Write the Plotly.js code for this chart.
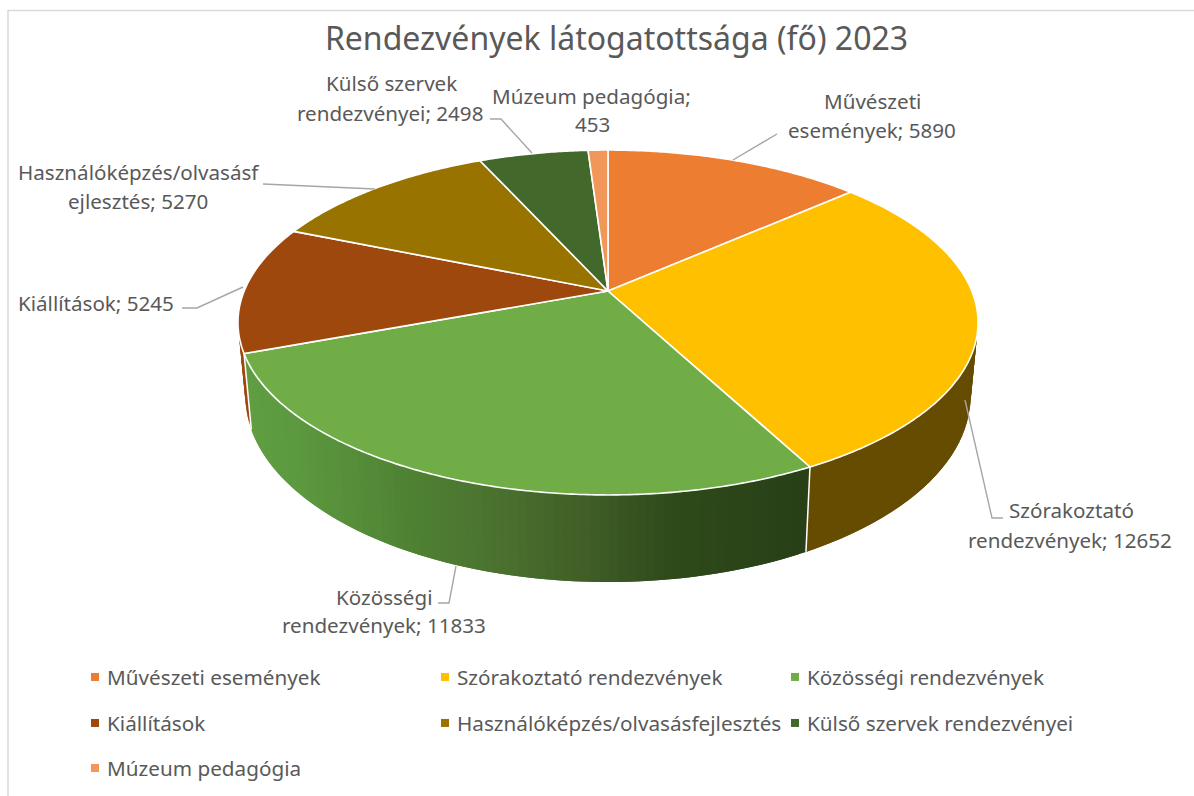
<!DOCTYPE html>
<html><head><meta charset="utf-8">
<script src="https://cdn.plot.ly/plotly-3.0.1.min.js"></script>
<style>html,body{margin:0;padding:0;background:#fff}#chart{width:1194px;height:796px}</style>
</head><body><div id="chart"></div>
<script>
const categories = ["Művészeti események","Szórakoztató rendezvények","Közösségi rendezvények","Kiállítások","Használóképzés/olvasásfejlesztés","Külső szervek rendezvényei","Múzeum pedagógia"];
const values = [5890,12652,11833,5245,5270,2498,453];
const colors = ["#ED7D31","#FFC000","#70AD47","#9E480E","#997300","#43682B","#F1975A"];
const labelHeads = ["Művészeti<br>események","Szórakoztató<br>rendezvények","Közösségi<br>rendezvények","Kiállítások","Használóképzés/olvasásf<br>ejlesztés","Külső szervek<br>rendezvényei","Múzeum pedagógia;<br>"];
const labelAnchors = [
  [[872,101],[872,130]],
  [[1071,510],[1070,540]],
  [[384,597],[384,625]],
  [[96,303]],
  [[138,172],[138,201]],
  [[391,83],[390,113]],
  [[591,96],[592,124]]
];
const leaders = [
  [[733,160],[777,134]],
  [[965,400],[992,518],[1003,518]],
  [[456,566],[449,603],[438,603]],
  [[243,287],[197,308],[182,308]],
  [[375,189],[263,184]],
  [[532,153],[501,119],[490,119]]
];
const legendRows = [[0,1,2],[3,4,5],[6]];
const legendRowY = [677,723,768];

// projection of the (perspective) disc into chart units
const P = {cx:608, cy:291, A:363.8, C:166.7, k:0.1826, botScaleX:0.98, depth:71.2};
const FONT = "Noto Sans, Open Sans, sans-serif", INK = "#595959";
const total = values.reduce((a,b)=>a+b,0);
const cum = [0]; values.forEach(v=>cum.push(cum[cum.length-1]+v));
const angOf = c => c/total*2*Math.PI;

function topPt(t){ const u=Math.sin(t), v=-Math.cos(t), w=1-P.k*v; return [P.cx+P.A*u/w, P.cy+P.C*v/w]; }
function botPt(t){ const p=topPt(t), w=1+P.k*Math.cos(t); return [P.cx+(p[0]-P.cx)*P.botScaleX, p[1]+P.depth/w]; }
function arc(fn,a,b,step){ const n=Math.max(2,Math.ceil(Math.abs(b-a)/step)); const o=[]; for(let i=0;i<=n;i++) o.push(fn(a+(b-a)*i/n)); return o; }
const hex = c=>[1,3,5].map(i=>parseInt(c.substr(i,2),16));
function shade(x,stops){ // x in chart units → colour
  let i=0; while(i<stops.length-2 && x>stops[i+1][0]) i++;
  const a=stops[i], b=stops[i+1], f=Math.min(1,Math.max(0,(x-a[0])/(b[0]-a[0])));
  const ca=hex(a[1]), cb=hex(b[1]);
  return `rgb(${ca.map((q,j)=>Math.round(q+(cb[j]-q)*f)).join(",")})`;
}
const greenStops = [[245,"#609E42"],[300,"#5B983F"],[407,"#4F8233"],[507,"#4A6F2F"],[590,"#3F5D26"],[673,"#2E4A1A"],[810,"#283F17"]];
const yellowWall = "#654C00", redWall = "#9E480E";

const traces = [];
function poly(pts,fill,lineColor,lineWidth,name){
  traces.push({type:"scatter",mode:"lines",x:pts.map(p=>p&&p[0]),y:pts.map(p=>p&&p[1]),fill:"toself",fillcolor:fill,
    line:{color:lineColor,width:lineWidth,simplify:false},showlegend:false,hoverinfo:name?"text":"skip",text:name||undefined,hoveron:"fills"});
}
function seg(pts,color,width){
  traces.push({type:"scatter",mode:"lines",x:pts.map(p=>p[0]),y:pts.map(p=>p[1]),line:{color:color,width:width},showlegend:false,hoverinfo:"skip"});
}
function wallStrips(a,b,step,colorAt){ // overlapping quads, so the outline follows the tangent with no seams
  const n=Math.ceil((b-a)/step), d=(b-a)/n;
  for(let i=0;i<n;i++){
    const s=a+d*i, e=Math.min(b,s+d*2);
    const pts=[topPt(s),topPt(e),botPt(e),botPt(s)];
    poly(pts,colorAt((pts[0][0]+topPt(s+d)[0])/2),"rgba(0,0,0,0)",0);
  }
}
const rad = Math.PI/180, tA=angOf(cum[1]), tB=angOf(cum[2]), tC=angOf(cum[3]), tD=angOf(cum[4]);
wallStrips(tA,tB,2*rad,()=>yellowWall);
wallStrips(tC,tD,2*rad,()=>redWall);
wallStrips(tB,tC,1.2*rad,x=>shade(x,greenStops));
seg([topPt(tB),botPt(tB)],"#fff",1.5);
seg([topPt(tC),botPt(tC)],"#fff",1.5);
// top face
values.forEach((v,i)=>{
  const pts=[[P.cx,P.cy]].concat(arc(topPt,angOf(cum[i]),angOf(cum[i+1]),rad*0.5));
  pts.push([P.cx,P.cy]);
  poly(pts,colors[i],"#fff",1.6,categories[i]+": "+v);
});
// leader lines
leaders.forEach(l=>seg(l,"#A6A6A6",1.4));
// legend swatches
const legendIds=["legend","legend2","legend3"];
legendRows.forEach((row,r)=>row.forEach(i=>{
  traces.push({type:"scatter",mode:"markers",x:[null],y:[null],name:categories[i],legend:legendIds[r],showlegend:true,
    marker:{symbol:"square",size:8,color:colors[i]},hoverinfo:"skip"});
}));

const annotations = [];
categories.forEach((c,i)=>{
  const full = labelHeads[i].endsWith("<br>") ? labelHeads[i]+values[i] : labelHeads[i]+"; "+values[i];
  full.split("<br>").forEach((line,j)=>annotations.push({
    xref:"x",yref:"y",x:labelAnchors[i][j][0],y:labelAnchors[i][j][1],showarrow:false,xanchor:"center",yanchor:"middle",align:"center",
    text:line,font:{family:FONT,size:20.6,color:INK}
  }));
});

const layout = {
  width:1194,height:796,margin:{l:0,r:0,t:0,b:0},paper_bgcolor:"#fff",plot_bgcolor:"#fff",
  title:{text:"Rendezvények látogatottsága (fő) 2023",x:616.5/1194,xanchor:"center",xref:"paper",y:1-39/796,yanchor:"middle",yref:"paper",
    font:{family:FONT,size:32,color:INK}},
  xaxis:{range:[0,1194],visible:false,fixedrange:true},
  yaxis:{range:[796,0],visible:false,fixedrange:true},
  annotations,
  shapes:[{type:"rect",xref:"x",yref:"y",x0:8,y0:10.5,x1:1210,y1:815,line:{color:"#D9D9D9",width:1.5},fillcolor:"rgba(0,0,0,0)",layer:"below"}],
  hovermode:"closest"
};
legendIds.forEach((id,r)=>{
  layout[id]={orientation:"h",x:67/1194,xanchor:"left",y:1-legendRowY[r]/796,yanchor:"middle",
    entrywidth:305,entrywidthmode:"pixels",bgcolor:"rgba(0,0,0,0)",font:{family:FONT,size:20.7,color:INK},itemclick:false,itemdoubleclick:false};
});
Plotly.newPlot("chart",traces,layout,{displayModeBar:false,responsive:false}).then(()=>{
  document.querySelectorAll(".legendsymbols").forEach(g=>g.setAttribute("transform","translate(8,0)"));
});
</script></body></html>
